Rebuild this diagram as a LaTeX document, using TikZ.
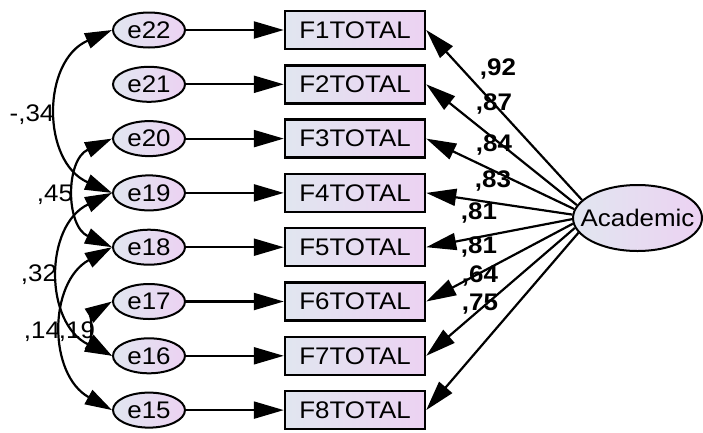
\documentclass[tikz,border=0pt]{standalone}
\usepackage{fontspec}
\setmainfont{Liberation Sans}
\usepackage{graphicx}
\usetikzlibrary{arrows.meta,shapes.geometric}
\definecolor{gL}{RGB}{225,230,240}
\definecolor{gR}{RGB}{236,210,242}
\newcommand\fs{\fontsize{24}{28}\selectfont}
\newcommand\tx[1]{\scalebox{1.08}[1]{#1}}
\begin{document}
\begin{tikzpicture}[x=1pt,y=-1pt,
  grad/.style={left color=gL,right color=gR},
  evar/.style={ellipse,draw,line width=2pt,grad,minimum width=72pt,minimum height=35pt,inner sep=0pt,font=\fs},
  lvar/.style={ellipse,draw,line width=2pt,grad,minimum width=129pt,minimum height=66pt,inner sep=0pt,font=\fs},
  obs/.style={rectangle,draw,line width=2.4pt,grad,minimum width=140pt,minimum height=38pt,inner sep=0pt,font=\fs},
  arr/.style={line width=2.2pt,-{Triangle[length=30pt,width=17pt]}},
  cov/.style={line width=2.2pt,{Triangle[length=27pt,width=16pt]}-{Triangle[length=27pt,width=16pt]}},
  lab/.style={inner sep=0pt,text height=17pt,text depth=0pt,font=\fs},
  blab/.style={lab,font=\fs\bfseries}]
\useasboundingbox (0,0) rectangle (703,432);

% error terms
\node[evar] (e22) at (149,30)    {\makebox[0pt]{\tx{e22}}};
\node[evar] (e21) at (149,84.3)  {\makebox[0pt]{\tx{e21}}};
\node[evar] (e20) at (149,138.6) {\makebox[0pt]{\tx{e20}}};
\node[evar] (e19) at (149,192.9) {\makebox[0pt]{\tx{e19}}};
\node[evar] (e18) at (149,247.2) {\makebox[0pt]{\tx{e18}}};
\node[evar] (e17) at (149,301.5) {\makebox[0pt]{\tx{e17}}};
\node[evar] (e16) at (149,355.8) {\makebox[0pt]{\tx{e16}}};
\node[evar] (e15) at (149,410.1) {\makebox[0pt]{\tx{e15}}};

% observed
\node[obs] (F1) at (355,30)    {\tx{F1TOTAL}};
\node[obs] (F2) at (355,84.3)  {\tx{F2TOTAL}};
\node[obs] (F3) at (355,138.6) {\tx{F3TOTAL}};
\node[obs] (F4) at (355,192.9) {\tx{F4TOTAL}};
\node[obs] (F5) at (355,247.2) {\tx{F5TOTAL}};
\node[obs] (F6) at (355,301.5) {\tx{F6TOTAL}};
\node[obs] (F7) at (355,355.8) {\tx{F7TOTAL}};
\node[obs] (F8) at (355,410.1) {\tx{F8TOTAL}};

% latent
\node[lvar] (acad) at (637.5,218) {\makebox[0pt]{\tx{Academic}}};

% error arrows
\draw[arr] (e22) -- (F1);
\draw[arr] (e21) -- (F2);
\draw[arr] (e20) -- (F3);
\draw[arr] (e19) -- (F4);
\draw[arr] (e18) -- (F5);
\draw[arr] (e17) -- (F6);
\draw[arr] (e16) -- (F7);
\draw[arr] (e15) -- (F8);

% loadings
\draw[arr] (acad.162.6) -- (F1.east);
\draw[arr] (acad.168.1) -- (F2.east);
\draw[arr] (acad.172.7) -- (F3.east);
\draw[arr] (acad.177)   -- (F4.east);
\draw[arr] (acad.181.2) -- (F5.east);
\draw[arr] (acad.185.4) -- (F6.east);
\draw[arr] (acad.189.8) -- (F7.east);
\draw[arr] (acad.194.8) -- (F8.east);

% covariances
\draw[cov] (e22.west) .. controls +(-70.6,30.9) and +(-70.6,-30.9) .. (e19.west);
\draw[cov] (e20.west) .. controls +(-46.6,21.3) and +(-46.6,-21.3) .. (e18.west);
\draw[cov] (e19.west) .. controls +(-68,32.6) and +(-68,-32.6) .. (e16.west);
\draw[cov] (e18.west) .. controls +(-64,35.5) and +(-64,-35.5) .. (e15.west);
\draw[cov] (e17.west) .. controls +(-20,12.4) and +(-20,-12.4) .. (e16.west);

% covariance labels
\node[lab] (c1) at (32,113) {\tx{-,34}};
\node[lab] (c2) at (55,193) {\tx{,45}};
\node[lab] (c3) at (39,273) {\tx{,32}};
\node[lab] (c4) at (42,330) {\tx{,14}};
\node[lab] (c5) at (77,330) {\tx{,19}};

% loading labels
\node[blab] (w1) at (498,67)  {\tx{,92}};
\node[blab] (w2) at (494,102) {\tx{,87}};
\node[blab] (w3) at (494,143) {\tx{,84}};
\node[blab] (w4) at (493,179) {\tx{,83}};
\node[blab] (w5) at (479,211) {\tx{,81}};
\node[blab] (w6) at (479,245) {\tx{,81}};
\node[blab] (w7) at (480,274) {\tx{,64}};
\node[blab] (w8) at (480,302) {\tx{,75}};
\end{tikzpicture}
\end{document}
